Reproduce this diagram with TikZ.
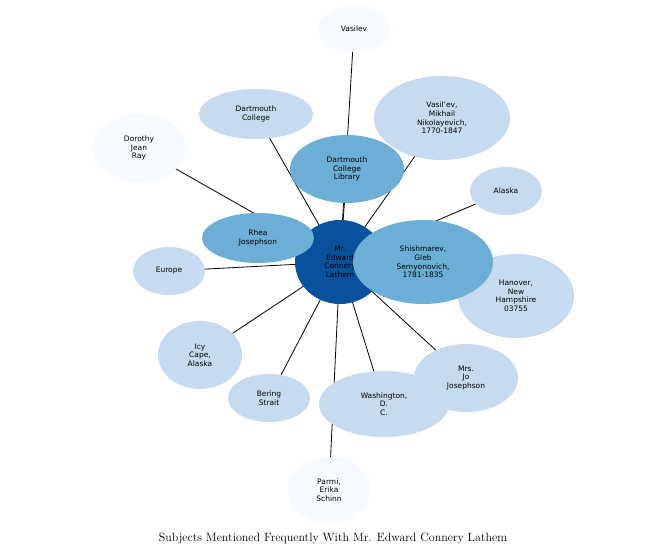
\documentclass[tikz,border=0pt]{standalone}
\usepackage{fontspec}
\setmainfont{DejaVu Sans}
\newfontfamily\titlefont{Latin Modern Roman}
\definecolor{cdark}{HTML}{08519C}
\definecolor{cmed}{HTML}{6BAED6}
\definecolor{clight}{HTML}{C6DBEF}
\definecolor{cvlight}{HTML}{F7FBFF}
\begin{document}
\begin{tikzpicture}[x=1pt,y=-1pt,
  bub/.style={inner sep=0pt,align=center,font=\fontsize{7.5}{8.6}\selectfont},
  edge/.style={draw=black,line width=0.8pt}]
\useasboundingbox (0,0) rectangle (667,559);
\fill[white] (0,0) rectangle (667,559);
\coordinate (c) at (340,262);
\foreach \p in {(354,29),(442,118),(256,114),(139,148),(347,169),(506,191),(258,238),(423,262),(169,271),(516,296),(200,355),(269,398),(384,404),(466,378),(329,490)}
  \draw[edge] (c) -- \p;
\def\bubble#1#2#3#4#5#6{\fill[#5] (#1,#2) ellipse ({#3/2} and {#4/2}); \node[bub] (n#1) at (#1,#2) {#6};}
\bubble{354}{29}{72}{46}{cvlight}{Vasilev}
\bubble{139}{148}{94}{68}{cvlight}{Dorothy\\Jean\\Ray}
\bubble{329}{490}{82}{66}{cvlight}{Parmi,\\Erika\\Schinn}
\bubble{442}{118}{136}{84}{clight}{Vasil'ev,\\Mikhail\\Nikolayevich,\\1770-1847}
\bubble{256}{114}{114}{50}{clight}{Dartmouth\\College}
\bubble{506}{191}{72}{48}{clight}{Alaska}
\bubble{169}{271}{72}{48}{clight}{Europe}
\bubble{200}{355}{84}{68}{clight}{Icy\\Cape,\\Alaska}
\bubble{269}{398}{82}{48}{clight}{Bering\\Strait}
\bubble{384}{404}{130}{66}{clight}{Washington,\\D.\\C.}
\bubble{466}{378}{104}{68}{clight}{Mrs.\\Jo\\Josephson}
\bubble{516}{296}{116}{84}{clight}{Hanover,\\New\\Hampshire\\03755}
\bubble{347}{169}{114}{68}{cmed}{Dartmouth\\College\\Library}
\bubble{340}{262}{90}{84}{cdark}{Mr.\\Edward\\Connery\\Lathem}
\bubble{258}{238}{112}{50}{cmed}{Rhea\\Josephson}
\bubble{423}{262}{140}{84}{cmed}{Shishmarev,\\Gleb\\Semyonovich,\\1781-1835}
\node[font=\titlefont\fontsize{12}{14}\selectfont] (title) at (333,538) {Subjects Mentioned Frequently With Mr. Edward Connery Lathem};
\end{tikzpicture}
\end{document}
